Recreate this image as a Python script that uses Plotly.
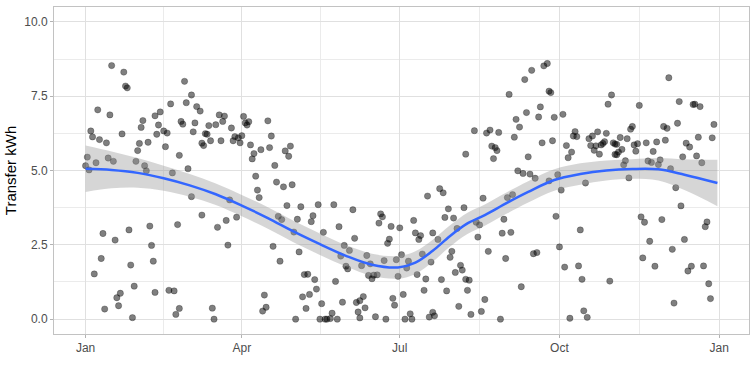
import pandas as pd
import plotly.graph_objects as go

# ---- data: day of year (0 = Jan 1) and daily transfer (kWh) ----
day = [
    15, 22, 23, 24, 57, 7, 14, 3, 4, 8, 12, 21, 33, 32, 40, 43, 42, 41, 45, 47,
    49, 58, 55, 56, 31, 36, 30, 46, 54, 1, 0, 2, 6, 13, 16, 29, 34, 35, 50, 59,
    10, 17, 25, 37, 38, 53, 9, 5, 26, 39, 28, 20, 18, 19, 11, 27, 40, 48, 51, 54, 52,
    61, 64, 66, 63, 62, 71, 75, 77, 80, 79, 69, 70, 67, 68, 72, 78, 84, 85, 86, 88,
    89, 90, 91, 92, 93, 94, 95, 97, 96, 101, 105, 107, 106, 109, 115, 117, 118, 98, 99, 100,
    110, 114, 119, 116, 111, 113, 120, 61, 67, 76, 81, 87, 83, 82, 108, 112, 103, 104, 102, 73, 74,
    122, 124, 123, 131, 130, 134, 137, 143, 146, 154, 149, 152, 147, 150, 151, 155, 159, 162, 164,
    126, 128, 132, 133, 144, 125, 129, 127, 136, 121, 135, 138, 139, 141, 142, 145, 148, 156, 157,
    158, 158, 160, 161, 163, 165, 166, 168, 167, 169, 170, 171, 176, 181, 175, 174, 172, 179, 180,
    182, 177, 178, 173,
    183, 184, 187, 188, 186, 185, 191, 189, 190, 192, 193, 194, 196, 195, 199, 200, 203, 197, 204,
    206, 205, 208, 207, 209, 212, 211, 210, 214, 218, 213, 216, 217, 219, 221, 220, 215, 222, 228,
    230, 219, 224, 231, 233, 238, 234, 236, 237, 235, 229, 225, 227, 226, 232, 241, 240, 242, 239,
    198, 200, 201,
    244, 243, 246, 245, 251, 258, 260, 247, 250, 248, 255, 249, 252, 256, 259, 253, 257, 264, 266,
    267, 268, 254, 261, 262, 263, 269, 270, 275, 267, 272, 274, 271, 273, 276, 277, 278, 280, 282,
    281, 283, 288, 285, 284, 286, 287, 289, 279, 290, 292, 295, 291, 293, 294, 296, 297, 298, 299,
    300, 301, 303, 304, 305, 302,
    305, 306, 306, 307, 309, 308, 312, 311, 310, 313, 314, 315, 316, 318, 317, 319, 323, 327, 329,
    324, 326, 330, 331, 333, 335, 334, 336, 341, 342, 337, 340, 343, 344, 346, 348, 350, 351, 354,
    353, 352, 355, 361, 362, 320, 322, 332, 325, 345, 338, 321, 328, 347, 349, 356, 358, 357, 359,
    360, 339,
]
kwh = [
    8.53, 8.31, 7.84, 7.78, 8.00, 7.04, 6.87, 6.33, 6.13, 6.04, 5.93, 6.23, 6.68, 6.45, 6.84, 6.97, 6.53, 6.22, 6.33, 6.26,
    7.24, 7.28, 6.65, 6.56, 5.91, 5.95, 5.67, 5.80, 5.51, 5.45, 5.16, 5.02, 5.26, 5.42, 5.31, 5.31, 5.16, 4.99, 4.92, 5.06,
    2.88, 2.66, 3.00, 3.13, 2.48, 3.18, 2.04, 1.52, 1.82, 1.95, 1.11, 0.87, 0.72, 0.45, 0.34, 0.05, 0.90, 0.97, 0.95, 0.36, 0.16,
    7.54, 7.15, 7.00, 6.60, 6.30, 6.51, 6.54, 6.87, 6.83, 6.65, 6.24, 6.22, 5.92, 5.84, 6.00, 6.00, 6.43, 6.00, 6.14, 6.10,
    5.93, 6.17, 6.82, 6.60, 6.53, 6.64, 5.86, 5.57, 5.39, 5.70, 6.67, 6.16, 5.77, 5.17, 5.66, 5.48, 5.82, 4.81, 4.34, 4.09,
    4.61, 4.45, 4.52, 3.82, 3.46, 3.35, 2.93, 4.12, 3.50, 3.09, 3.32, 3.43, 4.01, 2.49, 2.45, 1.95, 0.81, 0.40, 0.27, 0.37, 0.00,
    3.36, 3.78, 2.26, 3.48, 3.28, 3.85, 2.92, 3.85, 3.11, 3.68, 2.48, 2.31, 2.12, 1.78, 1.69, 2.72, 1.80, 2.14, 1.86,
    1.50, 1.51, 1.33, 1.01, 1.27, 0.75, 0.83, 0.36, 0.52, 0.00, 0.00, 0.00, 0.00, 0.02, 0.20, 0.00, 0.57, 0.56, 0.24,
    0.04, 0.62, 0.76, 0.38, 1.47, 1.36, 1.48, 1.49, 0.08, 3.23, 3.54, 3.44, 3.12, 3.07, 2.69, 2.55, 1.97, 2.00, 1.44,
    2.17, 0.70, 0.47, 0.00,
    0.83, 0.00, 0.18, 0.00, 1.95, 1.72, 1.50, 3.32, 2.90, 2.68, 2.81, 2.19, 1.35, 0.97, 1.92, 2.90, 2.68, 4.14, 4.39,
    4.25, 1.33, 0.95, 3.42, 3.71, 3.40, 2.28, 2.08, 3.05, 3.75, 1.57, 1.81, 1.65, 1.34, 1.31, 0.97, 0.43, 0.16, 0.26,
    0.66, 5.55, 6.34, 6.26, 6.36, 6.28, 5.82, 5.77, 5.67, 5.40, 4.07, 3.26, 3.17, 2.76, 2.28, 3.36, 2.89, 2.04, 0.00,
    0.07, 0.23, 0.11,
    7.56, 4.09, 4.19, 2.92, 1.09, 2.20, 2.24, 6.12, 6.46, 6.72, 5.46, 4.99, 4.90, 4.88, 4.74, 8.06, 8.37, 8.52, 8.60,
    7.67, 7.62, 6.95, 6.80, 7.14, 5.93, 6.00, 6.79, 6.89, 4.65, 4.86, 4.34, 3.46, 2.43, 1.75, 5.84, 5.43, 5.62, 6.31,
    6.16, 6.14, 4.58, 3.00, 1.79, 1.34, 0.28, 0.06, 0.03, 6.07, 6.16, 6.30, 5.84, 5.68, 5.83, 5.55, 5.86, 5.91, 5.97,
    6.25, 7.23, 7.54, 5.93, 5.54, 1.28,
    5.89, 5.88, 5.53, 5.62, 5.71, 6.11, 6.07, 5.33, 5.19, 4.75, 6.39, 6.48, 5.86, 5.90, 5.65, 7.19, 5.93, 5.64, 5.96,
    5.32, 5.27, 5.20, 5.36, 6.48, 6.42, 6.02, 8.12, 6.59, 7.32, 5.06, 4.42, 3.81, 5.46, 5.92, 5.79, 7.22, 7.23, 7.15,
    6.12, 5.49, 5.26, 6.10, 6.55, 3.44, 3.26, 3.35, 2.62, 2.68, 2.35, 2.06, 1.78, 1.62, 1.78, 1.79, 3.27, 3.11, 1.19,
    0.69, 0.54,
]

# ---- smoothed trend (loess), with its confidence half-width ----
smooth_day = [0, 15, 30, 45, 60, 75, 90, 105, 120, 135, 150, 165, 180, 190, 200, 210, 220,
              230, 243, 255, 270, 285, 300, 315, 330, 345, 364]
smooth_val = [5.06, 5.02, 4.92, 4.74, 4.50, 4.20, 3.82, 3.40, 2.94, 2.52, 2.13, 1.83, 1.74,
              1.90, 2.30, 2.80, 3.22, 3.50, 3.92, 4.28, 4.68, 4.88, 5.00, 5.05, 5.04, 4.86, 4.58]
smooth_se = [0.78, 0.62, 0.50, 0.42, 0.38, 0.36, 0.36, 0.36, 0.36, 0.36, 0.36, 0.37, 0.38,
             0.38, 0.37, 0.36, 0.36, 0.36, 0.36, 0.36, 0.36, 0.36, 0.34, 0.33, 0.38, 0.52, 0.78]

month_ticks = ["2021-01-01", "2021-04-01", "2021-07-01", "2021-10-01", "2022-01-01"]
month_labels = ["Jan", "Apr", "Jul", "Oct", "Jan"]
y_ticks = [0, 2.5, 5, 7.5, 10]
y_labels = ["0.0", "2.5", "5.0", "7.5", "10.0"]

base = pd.Timestamp("2021-01-01")
dates = base + pd.to_timedelta(day, unit="D")
s_dates = base + pd.to_timedelta(smooth_day, unit="D")
upper = [v + s for v, s in zip(smooth_val, smooth_se)]
lower = [v - s for v, s in zip(smooth_val, smooth_se)]

tick_ts = [pd.Timestamp(t) for t in month_ticks]
minor_x = [tick_ts[i] + (tick_ts[i + 1] - tick_ts[i]) / 2 for i in range(len(tick_ts) - 1)]

fig = go.Figure()
fig.add_trace(go.Scatter(
    x=dates, y=kwh, mode="markers",
    marker=dict(size=6.3, color="rgba(0,0,0,0.5)",
                line=dict(width=0.7, color="rgba(0,0,0,0.35)")),
    hoverinfo="skip", showlegend=False))
fig.add_trace(go.Scatter(
    x=s_dates, y=lower, mode="lines", line=dict(width=0, shape="spline"),
    hoverinfo="skip", showlegend=False))
fig.add_trace(go.Scatter(
    x=s_dates, y=upper, mode="lines", line=dict(width=0, shape="spline"),
    fill="tonexty", fillcolor="rgba(153,153,153,0.4)",
    hoverinfo="skip", showlegend=False))
fig.add_trace(go.Scatter(
    x=s_dates, y=smooth_val, mode="lines",
    line=dict(color="#3366FF", width=2.5, shape="spline"),
    hoverinfo="skip", showlegend=False))

span = pd.Timedelta(days=364)
xr = [base - span * 0.05, base + span * 1.05]

fig.update_layout(
    width=754, height=377,
    margin=dict(l=54, r=5, t=7, b=43),
    paper_bgcolor="white", plot_bgcolor="white",
    font=dict(family="Liberation Sans, Arial, sans-serif", color="#4D4D4D", size=12),
    xaxis=dict(
        range=xr, tickvals=tick_ts, ticktext=month_labels, automargin=False,
        showgrid=True, gridcolor="#E0E0E0", gridwidth=1,
        minor=dict(tickvals=minor_x, showgrid=True, gridcolor="#EBEBEB", gridwidth=0.6, ticks=""),
        ticks="outside", ticklen=3, tickcolor="#B3B3B3", tickwidth=1,
        showline=True, mirror=True, linecolor="#C2C2C2", linewidth=1,
        zeroline=False, tickfont=dict(size=12, color="#4D4D4D"),
    ),
    yaxis=dict(
        range=[-0.5, 10.5], tickvals=y_ticks, ticktext=y_labels, automargin=False,
        showgrid=True, gridcolor="#E0E0E0", gridwidth=1,
        minor=dict(tickvals=[1.25, 3.75, 6.25, 8.75], showgrid=True, gridcolor="#EBEBEB",
                   gridwidth=0.6, ticks=""),
        ticks="outside", ticklen=3, tickcolor="#B3B3B3", tickwidth=1,
        showline=True, mirror=True, linecolor="#C2C2C2", linewidth=1,
        zeroline=False, tickfont=dict(size=12, color="#4D4D4D"),
        title=dict(text="Transfer kWh", font=dict(size=15, color="#000000"), standoff=3),
    ),
)

fig.write_html("out.html", config={"displayModeBar": False},
               post_script="document.body.style.margin='0px';")
